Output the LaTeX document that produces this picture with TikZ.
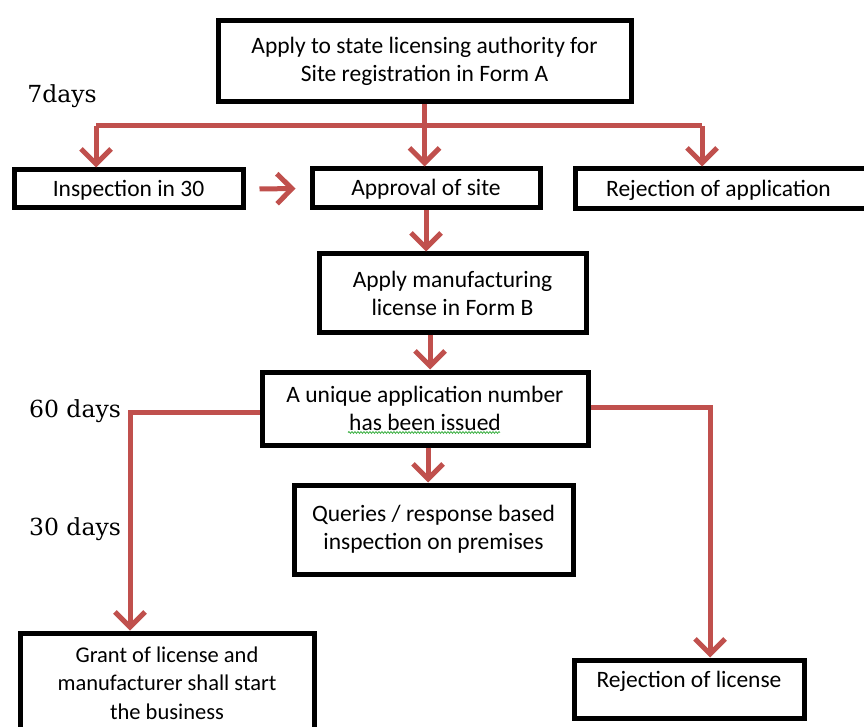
\documentclass[tikz,border=0pt]{standalone}
\usepackage{fontspec}
\setmainfont{Carlito}
\newfontfamily\labfont{DejaVu Serif}
\usetikzlibrary{arrows.meta,decorations.pathmorphing}
\definecolor{arrred}{HTML}{C0504D}
\definecolor{squig}{HTML}{3CB043}
\tikzset{
  box/.style={draw=black, line width=5pt, fill=white, align=center, inner sep=0pt,
    font=\fontsize{23.5}{28}\selectfont},
  conn/.style={draw=arrred, line width=5pt},
  arr/.style={conn, -{Straight Barb[length=15pt,width=30pt,line width=5pt]}},
  lab/.style={font=\labfont\fontsize{23.5}{28}\selectfont, inner sep=0pt}
}
\begin{document}
\begin{tikzpicture}[x=1pt,y=-1pt]
\useasboundingbox (0,0) rectangle (864,727);
\begin{scope}
\clip (0,0) rectangle (864,727);
% boxes
\node[box, minimum width=413pt, minimum height=81pt] (top) at (424.5,61.5)
  {Apply to state licensing authority for\\Site registration in Form A};
\node[box, minimum width=229pt, minimum height=38pt, text depth=2pt] (insp) at (128.5,189) {Inspection in 30};
\node[box, minimum width=228pt, minimum height=39pt, text depth=2pt] (appr) at (426,188.5) {Approval of site};
\node[box, minimum width=305pt, minimum height=40pt, text depth=2pt] (rejA) at (727.5,189) {\hspace*{-18pt}Rejection of application};
\node[box, minimum width=267pt, minimum height=78pt] (mfg) at (452.5,293)
  {Apply manufacturing\\license in Form B};
\node[box, minimum width=326pt, minimum height=73pt] (uniq) at (425,408.5)
  {A unique application number\\has been issued};
\node[box, minimum width=279pt, minimum height=89pt] (query) at (433.5,529.5)
  {Queries / response based\\inspection on premises};
\node[box, minimum width=294pt, minimum height=100pt, font=\fontsize{22.5}{28.5}\selectfont] (grant) at (167,683)
  {Grant of license and\\manufacturer shall start\\the business};
\node[box, minimum width=230pt, minimum height=58pt, text depth=20pt] (rejL) at (689,689)
  {Rejection of license};
% spelling squiggle
\draw[squig, line width=0.8pt, decorate, decoration={snake, amplitude=0.9pt, segment length=3pt}]
  (348,432.5) -- (500,432.5);
% connectors
\coordinate (busL) at (96,126);
\coordinate (busR) at (702,126);
\draw[conn] (busL) -- (busR);
\draw[arr] (top.south) -- (top.south |- appr.north);
\draw[arr] (busL) -- (busL |- insp.north);
\draw[arr] (busR) -- (busR |- rejA.north);
\draw[arr] ([xshift=14pt]insp.east) -- ([xshift=-14pt]appr.west);
\draw[arr] (appr.south) -- (appr.south |- mfg.north);
\draw[arr] ([xshift=5pt]uniq.north |- mfg.south) -- ([xshift=5pt]uniq.north);
\draw[arr] ([xshift=3pt]uniq.south) -- ([xshift=3pt]uniq.south |- query.north);
\draw[arr] ([yshift=-4pt]uniq.west) -| ([xshift=-37pt]grant.north);
\draw[arr] ([yshift=1pt]uniq.east) -| ([xshift=21pt]rejL.north);
% labels
\node[lab] (l7) at (62,96) {7days};
\node[lab] (l60) at (75,411) {60 days};
\node[lab] (l30) at (75,529) {30 days};
\end{scope}
\end{tikzpicture}
\end{document}
